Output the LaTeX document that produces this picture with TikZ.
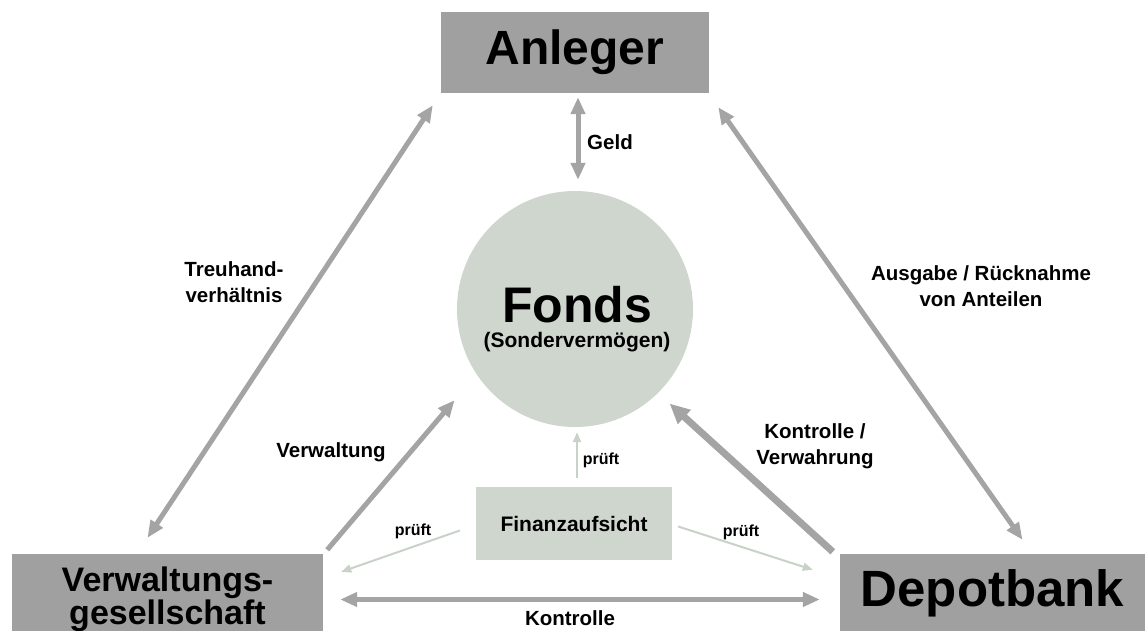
\documentclass[tikz,border=0pt]{standalone}
\usepackage{fontspec}
\setmainfont{Liberation Sans}
\usetikzlibrary{arrows.meta}
\definecolor{boxgray}{HTML}{A0A0A0}
\definecolor{fondsgreen}{HTML}{CED6CE}
\definecolor{arrowgray}{HTML}{A4A4A4}
\definecolor{pruefgreen}{HTML}{C8D2C8}

\begin{document}
\begin{tikzpicture}[x=1pt, y=-1pt,
    partybox/.style={rectangle, fill=boxgray, inner sep=0pt},
    lbl/.style={font=\fontsize{20.5}{26}\selectfont\bfseries, align=center},
    pruef/.style={font=\fontsize{16}{19}\selectfont\bfseries},
    bigarrow/.style={draw=arrowgray, line width=5pt, >={Triangle[length=17pt, width=14pt]}},
    heavyarrow/.style={draw=arrowgray, line width=7pt, >={Triangle[length=20pt, width=18pt]}},
    pruefarrow/.style={draw=pruefgreen, line width=2pt, >={Triangle[length=10pt, width=8pt]}}]
    \useasboundingbox (0,0) rectangle (1145,630);
    % Parties
    \node[partybox, minimum width=268pt, minimum height=81pt, font=\fontsize{48}{52}\selectfont\bfseries] (anleger) at (575,52.5) {Anleger};
    \node[partybox, minimum width=311pt, minimum height=91pt, align=center, font=\fontsize{34}{31}\selectfont\bfseries] (verw) at (167.5,599.5) {Verwaltungs-\\gesellschaft};
    \node[partybox, minimum width=305pt, minimum height=78pt, font=\fontsize{51}{55}\selectfont\bfseries] (depot) at (992.5,593) {Depotbank};
    % Fund
    \node[circle, fill=fondsgreen, minimum size=236pt, inner sep=0pt] (fonds) at (575,309) {};
    \node[anchor=base, font=\fontsize{50}{55}\selectfont\bfseries] (fondsname) at (577,322) {Fonds};
    \node[anchor=base, font=\fontsize{21}{25}\selectfont\bfseries] (fondssub) at (577,347) {(Sondervermögen)};
    % Supervision
    \node[fill=fondsgreen, minimum width=196pt, minimum height=73pt, inner sep=0pt, font=\fontsize{21}{25}\selectfont\bfseries] (finanz) at (574,523.5) {Finanzaufsicht};
    % Relations
    \draw[bigarrow, <->] ([shift={(-8,12)}]anleger.south west) -- ([shift={(-20,-16)}]verw.north);
    \draw[bigarrow, <->] ([shift={(9,14)}]anleger.south east) -- ([shift={(30,-14)}]depot.north);
    \draw[bigarrow, <->] ([shift={(3,4)}]anleger.south) -- ([shift={(3,-11)}]fonds.north);
    \draw[bigarrow, ->] ([shift={(4,-4)}]verw.north east) -- ([shift={(-26,20)}]fonds.217.5);
    \draw[heavyarrow, ->] ([shift={(-7,-2)}]depot.north west) -- ([shift={(11,11)}]fonds.-45);
    \draw[bigarrow, <->] ([xshift=17pt]verw.east) -- ([xshift=-20pt]verw.east -| depot.west);
    % Checks
    \draw[pruefarrow, ->] ([shift={(3,-9)}]finanz.north) -- ([shift={(2,5)}]fonds.south);
    \draw[pruefarrow, ->] ([shift={(-16,7)}]finanz.west) -- ([shift={(18,18)}]verw.north east);
    \draw[pruefarrow, ->] ([shift={(6,3)}]finanz.east) -- ([shift={(-27,16)}]depot.north west);
    % Labels
    \node[lbl] (geld) at (610,142.5) {Geld};
    \node[lbl] (treuhand) at (234,282) {Treuhand-\\verhältnis};
    \node[lbl] (ausgabe) at (981,286) {Ausgabe / Rücknahme\\von Anteilen};
    \node[lbl] (verwaltung) at (331,452) {Verwaltung};
    \node[lbl] (verwahrung) at (815,446) {Kontrolle /\\Verwahrung};
    \node[lbl] (kontrolle) at (570,618.5) {Kontrolle};
    \node[pruef] (pruefup) at (601,460) {prüft};
    \node[pruef] (pruefleft) at (413,531) {prüft};
    \node[pruef] (pruefright) at (741,532) {prüft};
\end{tikzpicture}
\end{document}
